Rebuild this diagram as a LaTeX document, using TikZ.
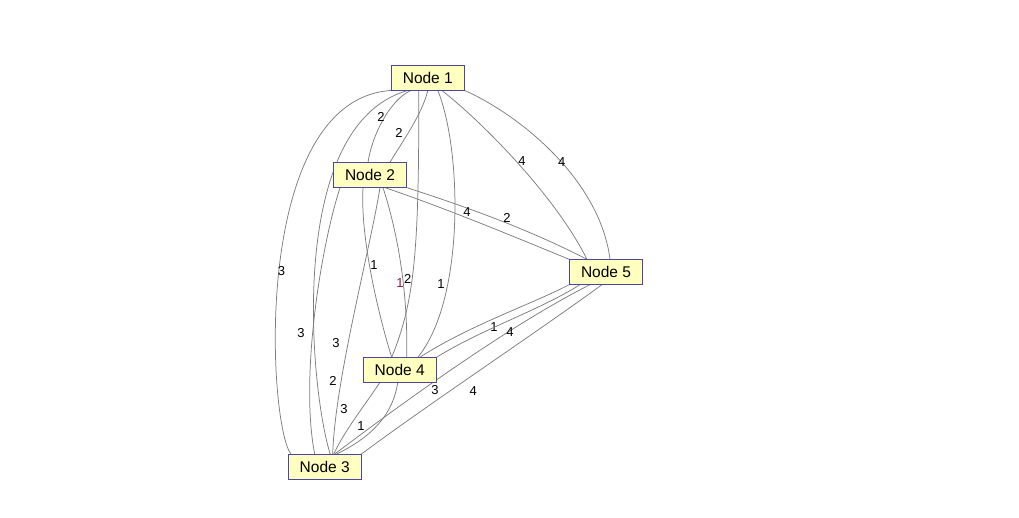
\documentclass[tikz,border=0pt]{standalone}
\usepackage{fontspec}
\setmainfont{Liberation Sans}
\usepackage{tikz}
\usetikzlibrary{backgrounds}
\definecolor{boxfill}{RGB}{255,255,192}
\definecolor{boxline}{RGB}{72,72,160}
\definecolor{wire}{RGB}{125,125,125}
\definecolor{odd}{RGB}{140,30,60}

\begin{document}
\begin{tikzpicture}[x=1pt,y=-1pt,
  vertex/.style={draw=boxline,fill=boxfill,line width=0.8pt,minimum width=72.7pt,minimum height=24.5pt,
    inner sep=0pt,font=\fontsize{15.5}{16}\selectfont},
  link/.style={draw=wire,line width=0.75pt},
  wt/.style={inner sep=0pt,text=black,font=\fontsize{13}{14}\selectfont}]
  \useasboundingbox (0,0) rectangle (1019,517);
  \node[vertex] (n1) at (427.8,77.8) {Node 1};
  \node[vertex] (n2) at (370,175) {Node 2};
  \node[vertex] (n5) at (606,272) {Node 5};
  \node[vertex] (n4) at (399.7,370) {Node 4};
  \node[vertex] (n3) at (324.7,466.7) {Node 3};
  \begin{scope}[on background layer]
  % node 1 -- node 3
  \draw[link] (n1.south west) .. controls (250,100) and (268,425) .. ([xshift=3pt]n3.north west)
    node[wt,pos=.5,xshift=2pt,yshift=-6.3pt] {3};
  \draw[link] ([xshift=-20pt]n1.south) .. controls (285,125) and (310,390) .. ([xshift=5.5pt]n3.north)
    node[wt,pos=.67,xshift=21.9pt,yshift=-2.5pt] {3};
  % node 2 -- node 3
  \draw[link] ([xshift=-30pt]n2.south) .. controls (320,250) and (300,380) .. ([xshift=-10pt]n3.north)
    node[wt,pos=.55,xshift=-11.8pt,yshift=-1.7pt] {3};
  \draw[link] ([xshift=10pt]n2.south) .. controls (370,250) and (335,380) .. ([xshift=8pt]n3.north)
    node[wt,pos=.72,xshift=-8.1pt] {2};
  % node 4 -- node 3
  \draw[link] ([xshift=-20pt]n4.south) .. controls (365,405) and (345,430) .. ([xshift=9pt]n3.north)
    node[wt,pos=.38,xshift=-17.4pt] {3};
  \draw[link] ([xshift=-2pt]n4.south) .. controls (392,420) and (365,440) .. ([xshift=12pt]n3.north)
    node[wt,pos=.5,xshift=-14.7pt,yshift=1pt] {1};
  % node 5 -- node 3
  \draw[link] ([xshift=-16pt]n5.south) .. controls (500,330) and (380,420) .. ([xshift=10pt]n3.north)
    node[wt,pos=.55,xshift=3.4pt,yshift=-6.8pt] {3};
  \draw[link] ([xshift=-4pt]n5.south) .. controls (540,330) and (420,410) .. (n3.north east)
    node[wt,pos=.55,xshift=6.2pt,yshift=-11.9pt] {4};
  % node 5 -- node 4
  \draw[link] (n5.south west) .. controls (530,305) and (470,325) .. ([xshift=20pt]n4.north)
    node[wt,pos=.5,xshift=-4.7pt,yshift=-10.5pt] {1};
  \draw[link] ([xshift=-26pt]n5.south) .. controls (540,310) and (480,330) .. (n4.north east)
    node[wt,pos=.5,xshift=.5pt,yshift=-11.75pt] {4};
  % node 2 -- node 5
  \draw[link] (n2.south east) .. controls (470,208) and (530,230) .. ([xshift=-19pt]n5.north)
    node[wt,pos=.5,xshift=7.8pt,yshift=2.1pt] {2};
  \draw[link] ([xshift=15pt]n2.south) .. controls (445,208) and (510,235) .. (n5.north west)
    node[wt,pos=.45,xshift=-1.1pt,yshift=6.2pt] {4};
  % node 1 -- node 5
  \draw[link] ([xshift=14pt]n1.south) .. controls (480,120) and (555,195) .. ([xshift=-19pt]n5.north)
    node[wt,pos=.5,xshift=5.3pt,yshift=.8pt] {4};
  \draw[link] (n1.south east) .. controls (520,115) and (600,180) .. ([xshift=4pt]n5.north)
    node[wt,pos=.53,xshift=2.4pt,yshift=-2.3pt] {4};
  % node 1 -- node 2
  \draw[link] ([xshift=-17pt]n1.south) .. controls (390,100) and (372,135) .. ([xshift=-2pt]n2.north)
    node[wt,pos=.5,xshift=-2.1pt,yshift=2.7pt] {2};
  \draw[link] (n1.south) .. controls (422,115) and (400,145) .. ([xshift=20pt]n2.north)
    node[wt,pos=.5,xshift=-11.5pt,yshift=-4pt] {2};
  % node 1 -- node 4
  \draw[link] ([xshift=-9pt]n1.south) .. controls (419,250) and (415,300) .. ([xshift=-8pt]n4.north)
    node[wt,pos=.57,xshift=-4.6pt,yshift=-.9pt] {2};
  \draw[link] ([xshift=10pt]n1.south) .. controls (462,150) and (465,300) .. ([xshift=18pt]n4.north)
    node[wt,pos=.7,xshift=-6.5pt,yshift=1.7pt] {1};
  % node 2 -- node 4
  \draw[link] ([xshift=-7pt]n2.south) .. controls (360,240) and (380,320) .. ([xshift=-8pt]n4.north)
    node[wt,pos=.43,xshift=4.6pt] {1};
  \draw[link] ([xshift=13pt]n2.south) .. controls (400,240) and (408,300) .. ([xshift=7pt]n4.north)
    node[wt,text=odd,pos=.55,xshift=-2.8pt,yshift=-3.7pt] {1};
  \end{scope}
\end{tikzpicture}
\end{document}
